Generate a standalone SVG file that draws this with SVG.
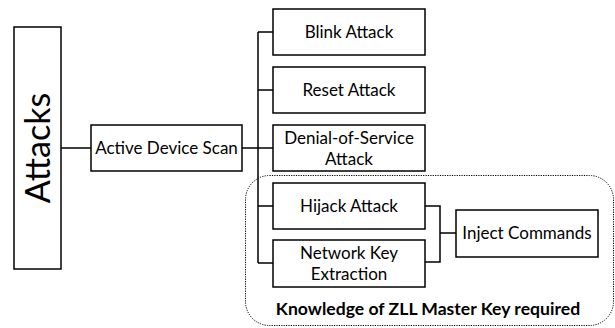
<svg xmlns="http://www.w3.org/2000/svg" width="615" height="328" viewBox="0 0 615 328">
<style>
.box{fill:#fff;stroke:#000;stroke-width:1.5}
.t{font-family:Lato,"Liberation Sans",sans-serif;font-size:17px;fill:#000;text-anchor:middle}
.c{fill:none;stroke:#000;stroke-width:1.5}
</style>
<rect width="615" height="328" fill="#fff"/>
<g id="region">
<rect x="245.5" y="175.5" width="368" height="150" rx="24" ry="24" fill="none" stroke="#000" stroke-width="1" stroke-dasharray="1.2,1.2"/>
<text class="t" x="428" y="315" style="font-weight:bold;font-size:17.6px">Knowledge of ZLL Master Key required</text>
</g>
<g id="connectors">
<path class="c" d="M61 148H91M242 148H273M258 32V263M258 32H273M258 90H273M258 206H273M258 263H273M425 206H440V262H425M440 233H456"/>
</g>
<g id="attacks">
<rect class="box" x="14" y="27" width="47" height="242"/>
<text class="t" style="font-size:34px" transform="translate(50 148) rotate(-90)" x="0" y="0">Attacks</text>
</g>
<g id="ads">
<rect class="box" x="91" y="125" width="151" height="46"/>
<text class="t" x="166.5" y="154">Active Device Scan</text>
</g>
<g id="blink">
<rect class="box" x="273" y="9" width="152" height="46"/>
<text class="t" x="349" y="38">Blink Attack</text>
</g>
<g id="reset">
<rect class="box" x="273" y="67" width="152" height="46"/>
<text class="t" x="349" y="96">Reset Attack</text>
</g>
<g id="dos">
<rect class="box" x="273" y="125" width="152" height="46"/>
<text class="t" x="349" y="144">Denial-of-Service</text>
<text class="t" x="349" y="165">Attack</text>
</g>
<g id="hijack">
<rect class="box" x="273" y="183" width="152" height="46"/>
<text class="t" x="349" y="212">Hijack Attack</text>
</g>
<g id="netkey">
<rect class="box" x="273" y="240" width="152" height="47"/>
<text class="t" x="349" y="259">Network Key</text>
<text class="t" x="349" y="280">Extraction</text>
</g>
<g id="inject">
<rect class="box" x="456" y="210" width="142" height="47"/>
<text class="t" x="527" y="239">Inject Commands</text>
</g>
</svg>
